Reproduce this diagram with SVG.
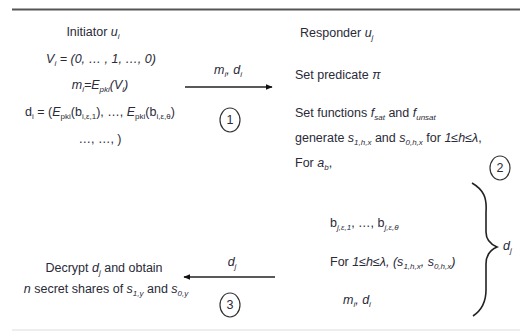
<svg xmlns="http://www.w3.org/2000/svg" width="520" height="331" viewBox="0 0 520 331">
<defs>
<style>
text{font-family:"Liberation Sans",Arial,sans-serif;font-size:12.5px;fill:#2a2a38}
.it{font-style:italic}
.s{font-size:8px}
.mid{text-anchor:middle}
.ln{stroke:#222;stroke-width:1.6;fill:none}
.cir{stroke:#333;stroke-width:1.2;fill:none}
</style>
<marker id="ah" viewBox="0 0 10 10" refX="9" refY="5" markerWidth="7" markerHeight="7" orient="auto-start-reverse" markerUnits="userSpaceOnUse">
<path d="M0,1 L10,5 L0,9 z" fill="#111"/>
</marker>
</defs>
<rect width="520" height="331" fill="#fff"/>
<line x1="12" y1="9.5" x2="520" y2="9.5" stroke="#555" stroke-width="2"/>
<line x1="12" y1="330" x2="520" y2="330" stroke="#ddd" stroke-width="1"/>

<g id="initiator">
<text class="mid" x="93" y="36">Initiator <tspan class="it">u</tspan><tspan class="s it" dy="3">i</tspan></text>
<text class="mid it" x="101" y="63">V<tspan class="s" dy="3">i</tspan><tspan dy="-3"> = (0, … , 1, …, 0)</tspan></text>
<text class="mid it" x="100" y="89">m<tspan class="s" dy="3">i</tspan><tspan dy="-3">=E</tspan><tspan class="s" dy="3">pki</tspan><tspan dy="-3">(V</tspan><tspan class="s" dy="3">i</tspan><tspan dy="-3">)</tspan></text>
<text class="mid" x="100" y="116">d<tspan class="s" dy="3">i</tspan><tspan dy="-3"> = (</tspan><tspan class="it">E</tspan><tspan class="s" dy="3">pki</tspan><tspan dy="-3">(b</tspan><tspan class="s" dy="3">i,ε,1</tspan><tspan dy="-3">), …, </tspan><tspan class="it">E</tspan><tspan class="s" dy="3">pki</tspan><tspan dy="-3">(b</tspan><tspan class="s" dy="3">i,ε,θ</tspan><tspan dy="-3">)</tspan></text>
<text class="mid" x="100" y="143">…, …, )</text>
</g>

<g id="responder">
<text x="300" y="37">Responder <tspan class="it">u</tspan><tspan class="s it" dy="3">j</tspan></text>
<text x="295" y="79">Set predicate <tspan class="it">π</tspan></text>
<text x="295" y="117">Set functions <tspan class="it">f</tspan><tspan class="s it" dy="3">sat</tspan><tspan dy="-3"> and </tspan><tspan class="it">f</tspan><tspan class="s it" dy="3">unsat</tspan></text>
<text x="295" y="142">generate <tspan class="it">s</tspan><tspan class="s it" dy="3">1,h,x</tspan><tspan dy="-3"> and </tspan><tspan class="it">s</tspan><tspan class="s it" dy="3">0,h,x</tspan><tspan dy="-3"> for </tspan><tspan class="it">1≤h≤λ</tspan>,</text>
<text x="295" y="167">For <tspan class="it">a</tspan><tspan class="s it" dy="3">b</tspan><tspan dy="-3">,</tspan></text>
<text x="330" y="227">b<tspan class="s it" dy="3">j,ε,1</tspan><tspan dy="-3">, …, b</tspan><tspan class="s it" dy="3">j,ε,θ</tspan></text>
<text x="330" y="266">For <tspan class="it">1≤h≤λ, (s</tspan><tspan class="s it" dy="3">1,h,x</tspan><tspan class="it" dy="-3">, s</tspan><tspan class="s it" dy="3">0,h,x</tspan><tspan class="it" dy="-3">)</tspan></text>
<text class="it" x="343" y="304">m<tspan class="s" dy="3">i</tspan><tspan dy="-3">, d</tspan><tspan class="s" dy="3">i</tspan></text>
</g>

<g id="decrypt">
<text class="mid" x="104" y="272">Decrypt <tspan class="it">d</tspan><tspan class="s it" dy="3">j</tspan><tspan dy="-3"> and obtain</tspan></text>
<text class="mid" x="106" y="293"><tspan class="it">n</tspan> secret shares of <tspan class="it">s</tspan><tspan class="s it" dy="3">1,y</tspan><tspan dy="-3"> and </tspan><tspan class="it">s</tspan><tspan class="s it" dy="3">0,y</tspan></text>
</g>

<g id="step1">
<ellipse class="cir" cx="230" cy="120" rx="10" ry="12"/>
<text class="mid" x="230" y="124">1</text>
</g>
<g id="step2">
<ellipse class="cir" cx="500" cy="168" rx="10" ry="12"/>
<text class="mid" x="500" y="172">2</text>
</g>
<g id="step3">
<ellipse class="cir" cx="230" cy="305" rx="10" ry="12"/>
<text class="mid" x="230" y="309">3</text>
</g>

<g id="brace">
<path class="ln" stroke-width="1.3" d="M472,183 C484,190 487,198 486,212 L486,232 C486,240 490,244 497,247 C490,250 486,256 486,264 L486,290 C486,302 482,310 473,316"/>
<text x="503" y="250" class="it">d<tspan class="s" dy="3">j</tspan></text>
</g>

<g id="connectors">
<line class="ln" x1="185" y1="87" x2="272" y2="87" marker-end="url(#ah)"/>
<text class="mid it" x="228" y="74">m<tspan class="s" dy="3">i</tspan><tspan dy="-3">, d</tspan><tspan class="s" dy="3">i</tspan></text>
<line class="ln" x1="275" y1="277" x2="184" y2="277" marker-end="url(#ah)"/>
<text class="mid it" x="232" y="266">d<tspan class="s" dy="3">j</tspan></text>
</g>
</svg>
